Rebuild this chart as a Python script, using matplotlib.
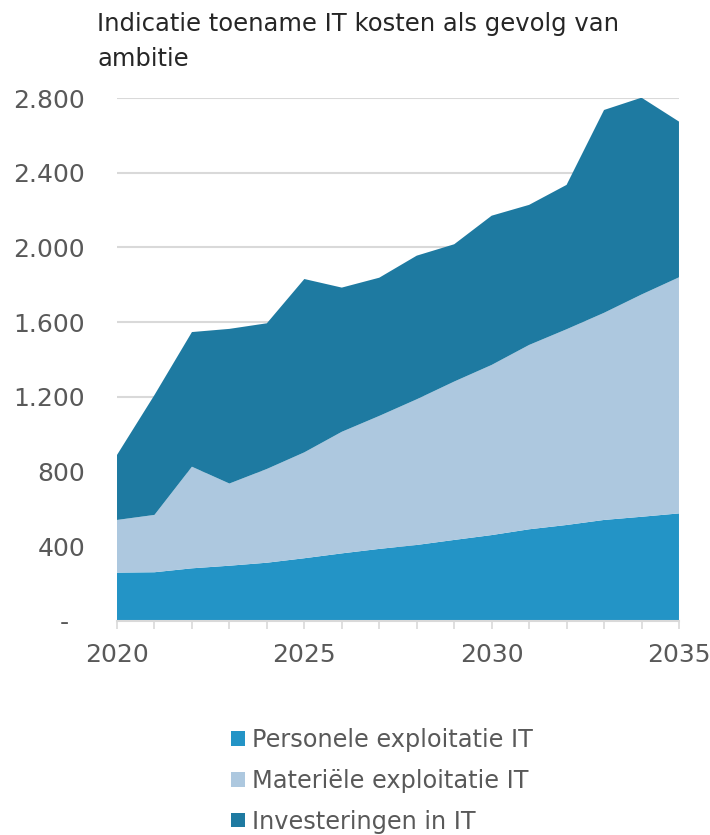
import matplotlib.pyplot as plt
import numpy as np
from matplotlib.patches import Patch

# data (mln euro)
years = np.arange(2020, 2036)
personeel = [259, 261, 282, 296, 312, 336, 362, 386, 407, 434, 460, 491, 514, 541, 558, 576]
materieel = [282, 307, 544, 440, 502, 567, 651, 712, 780, 848, 911, 987, 1048, 1109, 1190, 1264]
investering = [348, 642, 721, 828, 780, 928, 772, 740, 769, 735, 799, 750, 773, 1086, 1054, 834]

labels = ['Personele exploitatie IT', 'Materiële exploitatie IT', 'Investeringen in IT']
colors = ['#2394c6', '#adc8df', '#1e7aa1']
yticks = [0, 400, 800, 1200, 1600, 2000, 2400, 2800]
ytick_labels = ['-  ', '400', '800', '1.200', '1.600', '2.000', '2.400', '2.800']

plt.rcParams['font.family'] = ['DejaVu Sans']
grey = '#595959'

fig = plt.figure(figsize=(7.1, 8.35), dpi=100)
ax = fig.add_axes([0.1648, 0.2563, 0.7915, 0.6263])

ax.stackplot(years, personeel, materieel, investering, colors=colors, linewidth=0)

ax.set_xlim(2020, 2035)
ax.set_ylim(0, 2800)
ax.set_yticks(yticks)
ax.set_yticklabels(ytick_labels)
ax.set_xticks([2020, 2025, 2030, 2035])
ax.set_xticks(years, minor=True)

ax.grid(axis='y', color='#d9d9d9', linewidth=1.5)
ax.set_axisbelow(True)
for s in ['top', 'right', 'left']:
    ax.spines[s].set_visible(False)
ax.spines['bottom'].set_color('#d9d9d9')
ax.spines['bottom'].set_linewidth(1.5)
ax.spines['bottom'].set_zorder(5)

ax.tick_params(axis='y', length=0, pad=23, labelsize=18, labelcolor=grey)
ax.tick_params(axis='x', which='both', length=6, width=1.2, color='#d9d9d9',
               labelsize=18, labelcolor=grey, pad=10)

fig.text(0.137, 0.986, 'Indicatie toename IT kosten als gevolg van\nambitie',
         fontsize=17.5, color='#262626', va='top', ha='left', linespacing=1.6)

handles = [Patch(facecolor=c, edgecolor='none') for c in colors]
fig.legend(handles, labels, loc='upper left', bbox_to_anchor=(0.326, 0.128),
           frameon=False, fontsize=17.3, labelcolor=grey, handlelength=0.55,
           handleheight=0.55, handletextpad=0.3, labelspacing=0.7,
           borderaxespad=0, borderpad=0)

fig.savefig('out.png', dpi=100)
